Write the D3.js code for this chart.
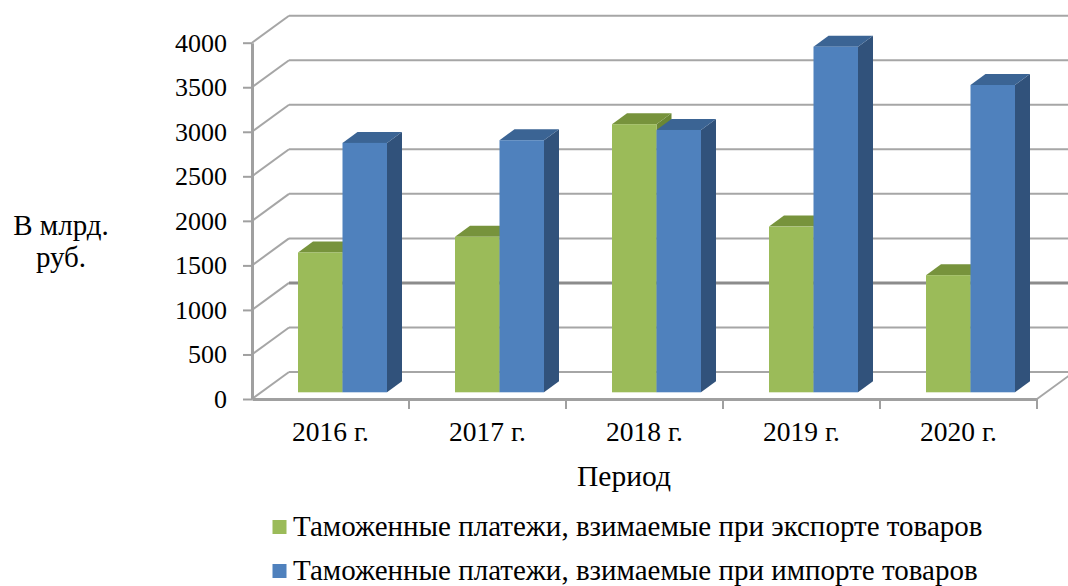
<!DOCTYPE html>
<html lang="ru">
<head>
<meta charset="UTF-8">
<title>Таможенные платежи</title>
<style>
  body { margin: 0; background: #fff; }
  .grid { fill: none; stroke: #a6a6a6; stroke-width: 2; }
  .axis-line { fill: none; stroke: #a0a0a0; stroke-width: 3; }
</style>
</head>
<body>
<script src="https://cdn.jsdelivr.net/npm/d3@7"></script>
<script>
// data
const years = ['2016 г.', '2017 г.', '2018 г.', '2019 г.', '2020 г.'];
const series = [
  'Таможенные платежи, взимаемые при экспорте товаров',
  'Таможенные платежи, взимаемые при импорте товаров'
];
const exportValues = [1570, 1745, 3010, 1860, 1315];
const importValues = [2800, 2830, 2945, 3880, 3450];
const yTicks = [0, 500, 1000, 1500, 2000, 2500, 3000, 3500, 4000];
const yLabel = ['В млрд.', 'руб.'];
const xLabel = 'Период';

const width = 1068, height = 586;
const serif = '"Liberation Serif", "Times New Roman", serif';
const colors = [
  { front: '#9bbb59', top: '#77933c', side: '#6b8735' },
  { front: '#4f81bd', top: '#3b6494', side: '#31527b' }
];

// 3D offsets (depth of the plot box, bar plane, bar depth)
const depth = { dx: 37, dy: -27 };
const barPlane = { dx: 12, dy: -6.7 };
const barDepth = { dx: 15, dy: -11 };

const svg = d3.select('body').append('svg')
  .attr('width', width)
  .attr('height', height)
  .style('font-family', serif);

const x = d3.scaleBand().domain(years).range([252, 1037]);
const y = d3.scaleLinear().domain([0, 4000]).range([399, 42.7]);
const inner = d3.scaleBand().domain(series).range([-44.5, 44.5]);

// side wall and back wall grid
const grid = svg.append('g');
yTicks.forEach(v => {
  const yf = y(v), yb = y(v) + depth.dy;
  grid.append('path')
    .attr('class', 'grid')
    .attr('d', `M252,${yf}L${252 + depth.dx},${yb}`);
  grid.append('path')
    .attr('class', 'grid')
    .attr('d', `M${252 + depth.dx},${yb}L${width + 10},${yb}`)
    .style('stroke', v === 1000 ? '#8c8c8c' : null)
    .style('stroke-width', v === 1000 ? 3 : null);
});

// floor right edge
grid.append('path')
  .attr('class', 'grid')
  .attr('d', `M${x.range()[1]},${y(0)}L${x.range()[1] + depth.dx},${y(0) + depth.dy}`);

// bars
const rows = years.map((yr, i) => ({ year: yr, values: [exportValues[i], importValues[i]] }));
const bw = inner.bandwidth();
const bars = svg.append('g');
rows.forEach(r => {
  const cx = x(r.year) + x.bandwidth() / 2 + barPlane.dx;
  r.values.forEach((v, j) => {
    const x0 = cx + inner(series[j]);
    const x1 = x0 + bw;
    const yt = y(v) + barPlane.dy;
    const yb = y(0) + barPlane.dy;
    const c = colors[j];
    const g = bars.append('g');
    g.append('path')
      .attr('fill', c.side)
      .attr('d', `M${x1},${yt}L${x1 + barDepth.dx},${yt + barDepth.dy}L${x1 + barDepth.dx},${yb + barDepth.dy}L${x1},${yb}Z`);
    g.append('path')
      .attr('fill', c.top)
      .attr('d', `M${x0},${yt}L${x1},${yt}L${x1 + barDepth.dx},${yt + barDepth.dy}L${x0 + barDepth.dx},${yt + barDepth.dy}Z`);
    g.append('rect')
      .attr('fill', c.front)
      .attr('x', x0)
      .attr('y', yt)
      .attr('width', bw)
      .attr('height', yb - yt);
  });
});

// y axis
const yAxis = svg.append('g')
  .attr('transform', 'translate(252,0)')
  .call(d3.axisLeft(y).tickValues(yTicks).tickFormat(d3.format('d'))
    .tickSize(9).tickSizeOuter(0).tickPadding(16));
yAxis.attr('font-family', null).attr('font-size', null);
yAxis.select('.domain').attr('class', 'domain axis-line');
yAxis.selectAll('.tick line').attr('stroke', '#a0a0a0').attr('stroke-width', 2);
yAxis.selectAll('.tick text')
  .style('font-family', serif)
  .style('font-size', '26px')
  .attr('fill', '#000');

// x axis
const xAxis = svg.append('g')
  .attr('transform', `translate(0,${y(0)})`)
  .call(d3.axisBottom(x).tickSize(0).tickPadding(22));
xAxis.attr('font-family', null).attr('font-size', null);
xAxis.select('.domain').attr('class', 'domain axis-line');
xAxis.selectAll('.tick text')
  .style('font-family', serif)
  .style('font-size', '27.5px')
  .attr('fill', '#000');
xAxis.selectAll('.bound')
  .data(years)
  .enter()
  .append('line')
  .attr('x1', d => x(d) + x.bandwidth())
  .attr('x2', d => x(d) + x.bandwidth())
  .attr('y1', 0)
  .attr('y2', 10)
  .attr('stroke', '#a0a0a0')
  .attr('stroke-width', 2);

// axis titles
svg.append('text')
  .attr('x', 61)
  .attr('y', 235)
  .attr('text-anchor', 'middle')
  .style('font-family', serif)
  .style('font-size', '29px')
  .selectAll('tspan')
  .data(yLabel)
  .enter()
  .append('tspan')
  .attr('x', 61)
  .attr('dy', (d, i) => i === 0 ? 0 : 32)
  .text(d => d);

svg.append('text')
  .attr('x', 624)
  .attr('y', 486)
  .attr('text-anchor', 'middle')
  .style('font-family', serif)
  .style('font-size', '29.5px')
  .text(xLabel);

// legend
const legend = svg.append('g');
series.forEach((s, i) => {
  const by = 536 + i * 44;
  legend.append('rect')
    .attr('x', 272.5)
    .attr('y', by - 16)
    .attr('width', 14)
    .attr('height', 14)
    .attr('fill', colors[i].front);
  legend.append('text')
    .attr('x', 293)
    .attr('y', by)
    .style('font-family', serif)
    .style('font-size', '29px')
    .text(s);
});
</script>
</body>
</html>
